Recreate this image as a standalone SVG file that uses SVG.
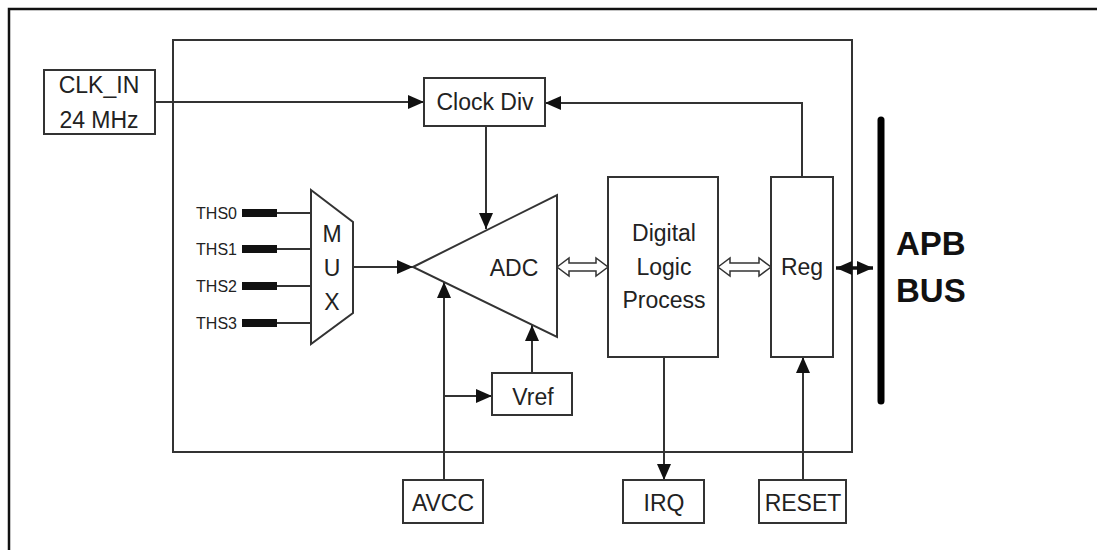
<svg xmlns="http://www.w3.org/2000/svg" width="1097" height="550" viewBox="0 0 1097 550">
<defs>
<marker id="arr" viewBox="0 0 10 10" refX="10" refY="5" markerWidth="16" markerHeight="14" markerUnits="userSpaceOnUse" orient="auto-start-reverse" preserveAspectRatio="none">
<path d="M0,0 L10,5 L0,10 z" fill="#111"/>
</marker>
</defs>
<style>
.box{fill:#fff;stroke:#333;stroke-width:2}
.ln{fill:none;stroke:#333;stroke-width:2}
.t{font-family:"Liberation Sans",Arial,sans-serif;font-size:23px;fill:#222;text-anchor:middle}
.s{font-family:"Liberation Sans",Arial,sans-serif;font-size:16px;fill:#222;text-anchor:end}
.b{font-family:"Liberation Sans",Arial,sans-serif;font-size:33px;font-weight:bold;fill:#111}
.hollow{fill:#fff;stroke:#333;stroke-width:1.5}
.pin{fill:#111}
</style>
<rect width="1097" height="550" fill="#fff"/>
<path d="M9,550 L9,9 L1097,9" fill="none" stroke="#111" stroke-width="2.5"/>
<rect id="chip" x="173" y="40" width="679" height="412" class="box"/>

<g id="connectors">
<path class="ln" d="M155,102 H424" marker-end="url(#arr)"/>
<path class="ln" d="M802,177 V103 H545" marker-end="url(#arr)"/>
<path class="ln" d="M486,126 V229" marker-end="url(#arr)"/>
<path class="ln" d="M353,267 H413" marker-end="url(#arr)"/>
<path class="ln" d="M444,480 V282" marker-end="url(#arr)"/>
<path class="ln" d="M444,396 H492" marker-end="url(#arr)"/>
<path class="ln" d="M532,373 V325" marker-end="url(#arr)"/>
<path class="ln" d="M664,357 V480" marker-end="url(#arr)"/>
<path class="ln" d="M803,480 V357" marker-end="url(#arr)"/>
<path class="ln" d="M277,213 H311 M277,249 H311 M277,286 H311 M277,323 H311"/>
<polygon class="hollow" points="557,267 569,258 569,263 596,263 596,258 608,267 596,276 596,271 569,271 569,276"/>
<polygon class="hollow" points="718,267 730,258 730,263 759,263 759,258 771,267 759,276 759,271 730,271 730,276"/>
<path d="M836,268 H873" stroke="#111" stroke-width="3.5" marker-start="url(#arr)" marker-end="url(#arr)"/>
</g>

<g id="clk_in"><rect x="44" y="70" width="111" height="64" class="box"/>
<text class="t" x="99" y="93">CLK_IN</text><text class="t" x="99" y="128">24 MHz</text></g>
<g id="clock_div"><rect x="424" y="78" width="121" height="48" class="box"/><text class="t" x="485" y="110">Clock Div</text></g>

<g id="ths">
<rect class="pin" x="242" y="209" width="35" height="8"/>
<rect class="pin" x="242" y="245" width="35" height="8"/>
<rect class="pin" x="242" y="282" width="35" height="8"/>
<rect class="pin" x="242" y="319" width="35" height="8"/>
<text class="s" x="237" y="219">THS0</text>
<text class="s" x="237" y="255">THS1</text>
<text class="s" x="237" y="292">THS2</text>
<text class="s" x="237" y="329">THS3</text>
</g>

<g id="mux"><polygon class="box" points="311,190 353,222 353,313 311,344"/>
<text class="t" x="332" y="242">M</text><text class="t" x="332" y="276">U</text><text class="t" x="332" y="310">X</text></g>

<g id="adc"><polygon class="box" points="413,267 557,195 557,337"/><text class="t" x="514" y="276">ADC</text></g>

<g id="vref"><rect x="492" y="373" width="80" height="42" class="box"/><text class="t" x="533" y="405">Vref</text></g>

<g id="digital"><rect x="608" y="177" width="110" height="180" class="box"/>
<text class="t" x="664" y="241">Digital</text><text class="t" x="664" y="275">Logic</text><text class="t" x="664" y="308">Process</text></g>

<g id="reg"><rect x="771" y="177" width="62" height="180" class="box"/><text class="t" x="802" y="275">Reg</text></g>

<g id="apb"><line x1="881" y1="120" x2="881" y2="401" stroke="#000" stroke-width="7" stroke-linecap="round"/>
<text class="b" x="896" y="255">APB</text><text class="b" x="896" y="302">BUS</text></g>

<g id="avcc"><rect x="403" y="480" width="80" height="43" class="box"/><text class="t" x="443" y="511">AVCC</text></g>
<g id="irq"><rect x="623" y="480" width="81" height="43" class="box"/><text class="t" x="664" y="511">IRQ</text></g>
<g id="reset"><rect x="759" y="480" width="87" height="43" class="box"/><text class="t" x="803" y="511">RESET</text></g>
</svg>
